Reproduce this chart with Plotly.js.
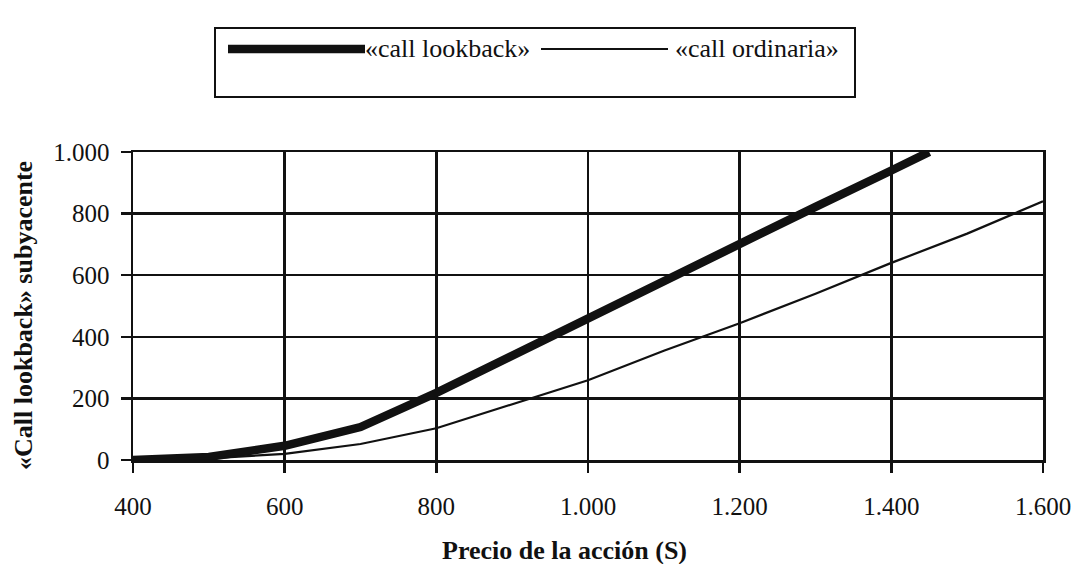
<!DOCTYPE html>
<html>
<head>
<meta charset="utf-8">
<script src="https://cdn.plot.ly/plotly-3.0.1.min.js"></script>
<style>html,body{margin:0;padding:0;background:#fff;}#chart{width:1074px;height:564px;}</style>
</head>
<body>
<div id="chart"></div>
<script>
// ---- data ----
var seriesNames = ['«call lookback»', '«call ordinaria»'];
var xLookback = [400, 500, 600, 700, 800, 900, 1000, 1100, 1200, 1300, 1400, 1450];
var yLookback = [0, 10, 46, 107, 218, 340, 460, 580, 703, 822, 940, 1000];
var xOrdinaria = [400, 500, 600, 700, 800, 900, 1000, 1100, 1200, 1300, 1400, 1500, 1600];
var yOrdinaria = [0, 5, 20, 52, 103, 182, 259, 355, 444, 540, 640, 735, 840];
var xTickVals = [400, 600, 800, 1000, 1200, 1400, 1600];
var xTickLabels = ['400', '600', '800', '1.000', '1.200', '1.400', '1.600'];
var yTickVals = [0, 200, 400, 600, 800, 1000];
var yTickLabels = ['0', '200', '400', '600', '800', '1.000'];
var xTitle = 'Precio de la acción (S)';
var yTitle = '«Call lookback» subyacente';

// ---- layout geometry ----
var W = 1074, H = 564;
var M = {l: 133, r: 31, t: 152, b: 104};
var pw = W - M.l - M.r, ph = H - M.t - M.b;
function px(x) { return (x - M.l) / pw; }
function py(y) { return (H - M.b - y) / ph; }

var FONT = 'Liberation Serif, Times New Roman, serif';
var INK = '#111111';

var traces = [
  {x: xLookback, y: yLookback, name: seriesNames[0], type: 'scatter', mode: 'lines',
   line: {color: INK, width: 8.5}, cliponaxis: false, showlegend: false},
  {x: xOrdinaria, y: yOrdinaria, name: seriesNames[1], type: 'scatter', mode: 'lines',
   line: {color: INK, width: 2.2}, cliponaxis: false, showlegend: false}
];

var legY = 49;
var axisCommon = {
  showgrid: true, gridcolor: INK, gridwidth: 2.5,
  showline: true, linecolor: INK, linewidth: 2.5, mirror: true,
  zeroline: false, ticks: 'outside', ticklen: 10, tickwidth: 2.5, tickcolor: INK,
  tickfont: {family: FONT, size: 25, color: INK},
  fixedrange: true
};
var layout = {
  width: W, height: H,
  margin: M,
  paper_bgcolor: '#ffffff', plot_bgcolor: '#ffffff',
  font: {family: FONT, size: 25, color: INK},
  showlegend: false,
  xaxis: Object.assign({}, axisCommon, {
    range: [400, 1600], tickvals: xTickVals, ticktext: xTickLabels, ticklabelstandoff: 12
  }),
  yaxis: Object.assign({}, axisCommon, {
    range: [0, 1000], tickvals: yTickVals, ticktext: yTickLabels, ticklabelstandoff: 6
  }),
  shapes: [
    {type: 'rect', xref: 'paper', yref: 'paper', x0: px(215), x1: px(855), y0: py(28), y1: py(97),
     line: {color: INK, width: 2}, fillcolor: 'rgba(0,0,0,0)'},
    {type: 'line', xref: 'paper', yref: 'paper', x0: px(228), x1: px(365), y0: py(legY), y1: py(legY),
     line: {color: INK, width: 8.5}},
    {type: 'line', xref: 'paper', yref: 'paper', x0: px(541), x1: px(668), y0: py(legY), y1: py(legY),
     line: {color: INK, width: 2.2}}
  ],
  annotations: [
    {xref: 'paper', yref: 'paper', x: px(363), y: py(legY), xanchor: 'left', yanchor: 'middle',
     text: seriesNames[0], showarrow: false, font: {family: FONT, size: 26, color: INK}},
    {xref: 'paper', yref: 'paper', x: px(673), y: py(legY), xanchor: 'left', yanchor: 'middle',
     text: seriesNames[1], showarrow: false, font: {family: FONT, size: 26, color: INK}},
    {xref: 'paper', yref: 'paper', x: px(564), y: py(550), xanchor: 'center', yanchor: 'middle',
     text: '<b>' + xTitle + '</b>', showarrow: false, font: {family: FONT, size: 26, color: INK}},
    {xref: 'paper', yref: 'paper', x: px(23), y: py(316), xanchor: 'center', yanchor: 'middle',
     textangle: -90, text: '<b>' + yTitle + '</b>', showarrow: false,
     font: {family: FONT, size: 26, color: INK}}
  ]
};

Plotly.newPlot('chart', traces, layout, {displayModeBar: false, staticPlot: true});
</script>
</body>
</html>
